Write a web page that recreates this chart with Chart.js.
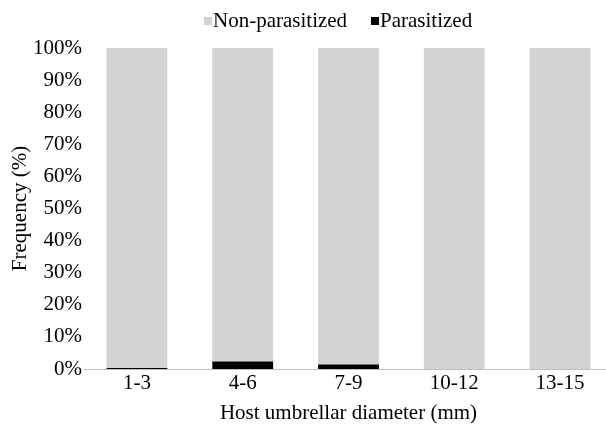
<!DOCTYPE html>
<html>
<head>
<meta charset="utf-8">
<script src="https://cdn.jsdelivr.net/npm/chart.js@4"></script>
<style>
  html, body { margin: 0; padding: 0; background: #fff; overflow: hidden; }
  #wrap { position: relative; width: 606px; height: 426px; overflow: hidden; }
  #chart { position: absolute; left: 0; top: 0; }
  #legend { position: absolute; top: 8px; left: 0; width: 606px; font: 21px 'Liberation Serif', 'Times New Roman', serif; color: #000; white-space: nowrap; line-height: 24px; }
  #legend span.item { position: absolute; top: 0; }
  #legend i { display: inline-block; width: 8px; height: 8px; margin-right: 1px; vertical-align: 2px; }
</style>
</head>
<body>
<div id="wrap">
  <canvas id="chart" width="613" height="426"></canvas>
  <div id="legend"></div>
</div>
<script>
const categories = ['1-3', '4-6', '7-9', '10-12', '13-15'];
const parasitized = [0.3, 2.3, 1.4, 0, 0];
const nonParasitized = [99.7, 97.7, 98.6, 100, 100];
const yTicks = [0, 10, 20, 30, 40, 50, 60, 70, 80, 90, 100];

const seriesNames = ['Non-parasitized', 'Parasitized'];
const seriesColors = ['#d3d3d3', '#000000'];

const font = { family: "'Liberation Serif', 'Times New Roman', serif", size: 21 };

// legend built as html so the little squares sit right against the text
const legendEl = document.getElementById('legend');
const legendX = [204, 371];
seriesNames.forEach((name, i) => {
    const s = document.createElement('span');
    s.className = 'item';
    s.style.left = legendX[i] + 'px';
    s.innerHTML = '<i style="background:' + seriesColors[i] + '"></i>' + name;
    legendEl.appendChild(s);
});

const ctx = document.getElementById('chart').getContext('2d');
new Chart(ctx, {
    type: 'bar',
    data: {
        labels: categories,
        datasets: [
            { label: seriesNames[1], data: parasitized, backgroundColor: seriesColors[1] },
            { label: seriesNames[0], data: nonParasitized, backgroundColor: seriesColors[0] }
        ]
    },
    options: {
        responsive: false,
        animation: false,
        layout: { padding: { left: 0, right: 0, top: 48, bottom: 0 } },
        datasets: { bar: { categoryPercentage: 1, barPercentage: 0.575 } },
        plugins: {
            legend: { display: false },
            tooltip: { enabled: false }
        },
        scales: {
            x: {
                stacked: true,
                grid: { display: false, drawTicks: false },
                border: { color: '#bfbfbf' },
                ticks: { font: font, color: '#000', padding: 2 },
                title: { display: true, text: 'Host umbrellar diameter (mm)', font: font, color: '#000', padding: { top: 4, bottom: 0 } },
                afterFit: axis => { axis.height = 57; }
            },
            y: {
                stacked: true,
                min: 0, max: 100,
                afterBuildTicks: axis => { axis.ticks = yTicks.map(v => ({ value: v })); },
                grid: { display: false, drawTicks: false },
                border: { display: false },
                ticks: { font: font, color: '#000', padding: 2, callback: v => v + '%' },
                title: { display: true, text: 'Frequency (%)', font: font, color: '#000', padding: { top: 8, bottom: 4 } },
                afterFit: axis => { axis.width = 84; }
            }
        }
    }
});
</script>
</body>
</html>
